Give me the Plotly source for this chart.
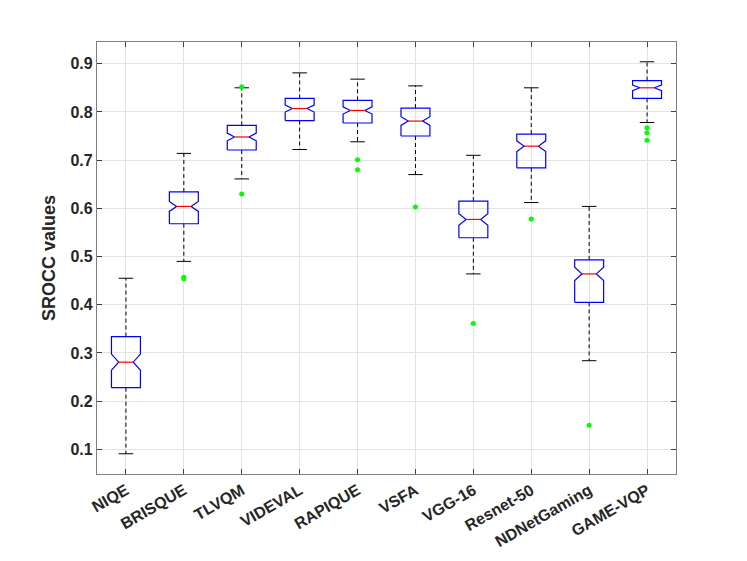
import plotly.graph_objects as go

methods = ["NIQE", "BRISQUE", "TLVQM", "VIDEVAL", "RAPIQUE", "VSFA",
           "VGG-16", "Resnet-50", "NDNetGaming", "GAME-VQP"]
lower_whisker = [0.091, 0.490, 0.661, 0.722, 0.738, 0.670, 0.464, 0.612, 0.284, 0.778]
q1 = [0.228, 0.568, 0.721, 0.782, 0.777, 0.750, 0.539, 0.684, 0.405, 0.828]
median = [0.281, 0.604, 0.748, 0.807, 0.803, 0.781, 0.577, 0.729, 0.464, 0.850]
q3 = [0.334, 0.634, 0.772, 0.828, 0.824, 0.808, 0.615, 0.754, 0.493, 0.865]
upper_whisker = [0.455, 0.714, 0.850, 0.881, 0.868, 0.854, 0.710, 0.850, 0.604, 0.904]
outliers = [[], [0.454, 0.457], [0.852, 0.630], [], [0.701, 0.680], [0.603],
            [0.361], [0.578], [0.150], [0.767, 0.757, 0.741]]
n_runs = 100

half_w = 0.25
notch_w = 0.125
cap_w = 0.125

box_x, box_y = [], []
med_x, med_y = [], []
wh_x, wh_y = [], []
cap_x, cap_y = [], []
out_x, out_y = [], []
for i, name in enumerate(methods):
    c = i + 1
    iqr = q3[i] - q1[i]
    nlo = median[i] - 1.57 * iqr / n_runs ** 0.5
    nhi = median[i] + 1.57 * iqr / n_runs ** 0.5
    box_x += [c - half_w, c - half_w, c - notch_w, c - half_w, c - half_w,
              c + half_w, c + half_w, c + notch_w, c + half_w, c + half_w,
              c - half_w, None]
    box_y += [q1[i], nlo, median[i], nhi, q3[i],
              q3[i], nhi, median[i], nlo, q1[i], q1[i], None]
    med_x += [c - notch_w, c + notch_w, None]
    med_y += [median[i], median[i], None]
    wh_x += [c, c, None, c, c, None]
    wh_y += [q3[i], upper_whisker[i], None, q1[i], lower_whisker[i], None]
    cap_x += [c - cap_w, c + cap_w, None, c - cap_w, c + cap_w, None]
    cap_y += [upper_whisker[i], upper_whisker[i], None,
              lower_whisker[i], lower_whisker[i], None]
    for v in outliers[i]:
        out_x.append(c)
        out_y.append(v)

fig = go.Figure()
fig.add_trace(go.Scatter(x=wh_x, y=wh_y, mode="lines",
                         line=dict(color="black", width=1, dash="4px,3px")))
fig.add_trace(go.Scatter(x=cap_x, y=cap_y, mode="lines",
                         line=dict(color="black", width=1)))
fig.add_trace(go.Scatter(x=box_x, y=box_y, mode="lines",
                         line=dict(color="#0000ff", width=1.2)))
fig.add_trace(go.Scatter(x=med_x, y=med_y, mode="lines",
                         line=dict(color="#ff0000", width=1.2)))
fig.add_trace(go.Scatter(x=out_x, y=out_y, mode="markers",
                         marker=dict(color="#00ff00", size=5)))

axis_font = dict(family="Liberation Sans", size=16, color="#262626")
fig.update_layout(
    width=747, height=561,
    margin=dict(l=89, r=79, t=34, b=95),
    paper_bgcolor="white", plot_bgcolor="white",
    showlegend=False,
    xaxis=dict(
        range=[0.5, 10.5], tickvals=list(range(1, 11)), ticktext=methods,
        tickangle=-30, tickfont=dict(axis_font, weight="bold"),
        showgrid=True, gridcolor="#e3e3e3", gridwidth=1,
        showline=True, linecolor="#808080", linewidth=1.2, mirror="allticks",
        ticks="inside", ticklen=5, tickcolor="#404040", zeroline=False,
        automargin=False,
    ),
    yaxis=dict(
        range=[0.049, 0.945], tickvals=[0.1, 0.2, 0.3, 0.4, 0.5, 0.6, 0.7, 0.8, 0.9],
        ticktext=["0.1", "0.2", "0.3", "0.4", "0.5", "0.6", "0.7", "0.8", "0.9"],
        tickfont=dict(axis_font, weight="bold"),
        title=dict(text="SROCC values", font=dict(axis_font, size=18, weight="bold"),
                   standoff=10),
        showgrid=True, gridcolor="#e3e3e3", gridwidth=1,
        showline=True, linecolor="#808080", linewidth=1.2, mirror="allticks",
        ticks="inside", ticklen=5, tickcolor="#404040", zeroline=False,
        automargin=False,
    ),
)

fig.write_html("out.html")
